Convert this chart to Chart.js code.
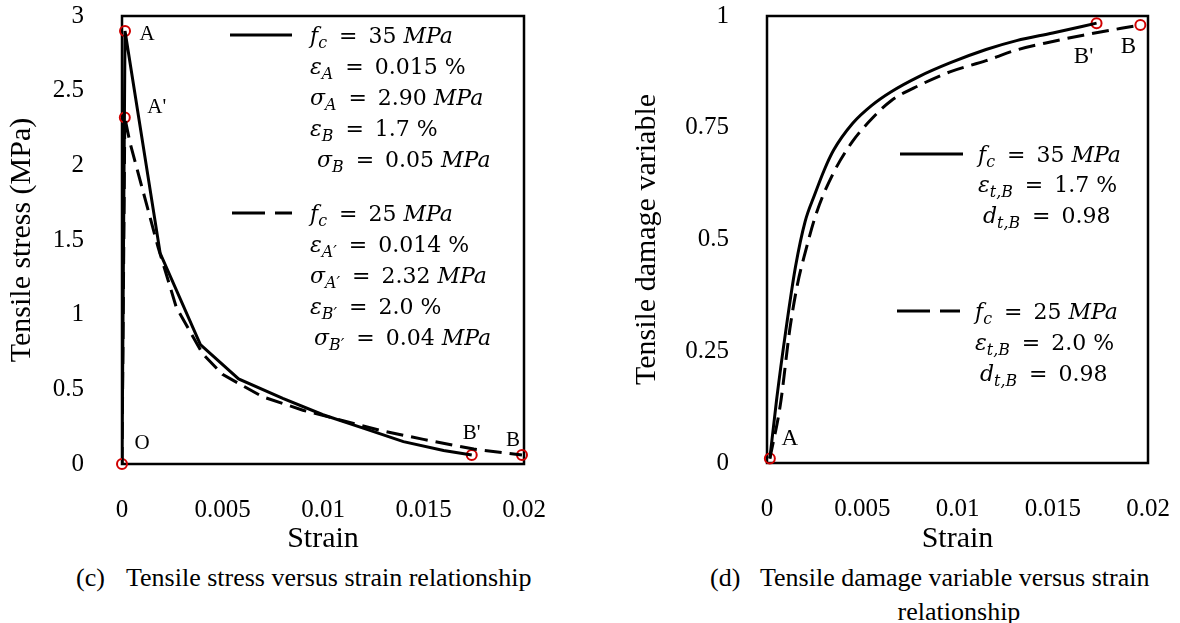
<!DOCTYPE html>
<html>
<head>
<meta charset="utf-8">
<script src="https://cdn.jsdelivr.net/npm/chart.js@4.4.1/dist/chart.umd.min.js"></script>
<style>
  body { margin: 0; background: #fff; width: 1180px; height: 623px; position: relative; overflow: hidden; }
  canvas { position: absolute; top: 0; }
  #stressChart { left: 0; }
  #damageChart { left: 590px; }
  .cap { position: absolute; font: 26px "Liberation Serif", serif; line-height: 1; color: #000; white-space: nowrap; }
</style>
</head>
<body>
<canvas id="stressChart" width="590" height="560"></canvas>
<canvas id="damageChart" width="590" height="560"></canvas>
<div class="cap" style="left:76px;top:565px">(c)</div>
<div class="cap" style="left:126px;top:565px">Tensile stress versus strain relationship</div>
<div class="cap" style="left:710px;top:565px">(d)</div>
<div class="cap" style="left:760px;top:565px">Tensile damage variable versus strain</div>
<div class="cap" style="left:959px;top:599px;transform:translateX(-50%)">relationship</div>
<script>
// tick values and labels
const strainTicks = [0, 0.005, 0.01, 0.015, 0.02];
const strainTickLabels = ['0', '0.005', '0.01', '0.015', '0.02'];
const stressTicks = [0, 0.5, 1, 1.5, 2, 2.5, 3];
const stressTickLabels = ['0', '0.5', '1', '1.5', '2', '2.5', '3'];
const damageTicks = [0, 0.25, 0.5, 0.75, 1];
const damageTickLabels = ['0', '0.25', '0.5', '0.75', '1'];

// (c) tensile stress vs strain
const stressStrain35 = [0, 0.00015, 0.0019, 0.0039, 0.0058, 0.008, 0.01, 0.012, 0.014, 0.016, 0.0174];
const stress35 = [0, 2.9, 1.41, 0.8, 0.57, 0.44, 0.33, 0.24, 0.15, 0.09, 0.06];
const stressStrain25 = [0, 0.00014, 0.0004, 0.001, 0.0018, 0.0027, 0.004, 0.005, 0.007, 0.009, 0.011, 0.013, 0.015, 0.0175, 0.0199];
const stress25 = [0, 2.32, 2.15, 1.85, 1.45, 1.05, 0.74, 0.6, 0.45, 0.36, 0.29, 0.22, 0.165, 0.1, 0.06];
const stressPtStrain = [0, 0.00015, 0.00014, 0.0174, 0.0199];
const stressPtValue = [0, 2.9, 2.32, 0.06, 0.06];
const stressPtNames = ['O', 'A', "A'", "B'", 'B'];

// (d) tensile damage vs strain
const damageStrain35 = [0.00015, 0.0005, 0.001, 0.0015, 0.002, 0.0025, 0.003, 0.0035, 0.0045, 0.0055, 0.0065, 0.008, 0.0096, 0.0115, 0.0131, 0.015, 0.0173];
const damage35 = [0.01, 0.14, 0.3, 0.44, 0.54, 0.6, 0.655, 0.7, 0.76, 0.8, 0.83, 0.865, 0.895, 0.925, 0.945, 0.962, 0.984];
const damageStrain25 = [0.00015, 0.0007, 0.0012, 0.0016, 0.002, 0.0026, 0.0035, 0.0045, 0.0055, 0.0065, 0.008, 0.0096, 0.0115, 0.0131, 0.015, 0.0166, 0.0196];
const damage25 = [0.01, 0.13, 0.3, 0.4, 0.47, 0.56, 0.65, 0.72, 0.77, 0.81, 0.845, 0.875, 0.9, 0.924, 0.943, 0.957, 0.98];
const damagePtStrain = [0.00015, 0.0173, 0.0196];
const damagePtValue = [0.01, 0.984, 0.98];
const damagePtNames = ['A', "B'", 'B'];

// legend text: [text, style]  i = italic, s = subscript, r = roman
const legendC35 = [
  [['f', 'i'], ['c', 'is'], [' = 35 ', 'r'], ['MPa', 'i']],
  [['ε', 'i'], ['A', 'is'], [' = 0.015 %', 'r']],
  [['σ', 'i'], ['A', 'is'], [' = 2.90 ', 'r'], ['MPa', 'i']],
  [['ε', 'i'], ['B', 'is'], [' = 1.7 %', 'r']],
  [['σ', 'i'], ['B', 'is'], [' = 0.05 ', 'r'], ['MPa', 'i']]
];
const legendC25 = [
  [['f', 'i'], ['c', 'is'], [' = 25 ', 'r'], ['MPa', 'i']],
  [['ε', 'i'], ['A′', 'is'], [' = 0.014 %', 'r']],
  [['σ', 'i'], ['A′', 'is'], [' = 2.32 ', 'r'], ['MPa', 'i']],
  [['ε', 'i'], ['B′', 'is'], [' = 2.0 %', 'r']],
  [['σ', 'i'], ['B′', 'is'], [' = 0.04 ', 'r'], ['MPa', 'i']]
];
const legendD35 = [
  [['f', 'i'], ['c', 'is'], [' = 35 ', 'r'], ['MPa', 'i']],
  [['ε', 'i'], ['t,B', 'is'], [' = 1.7 %', 'r']],
  [['d', 'i'], ['t,B', 'is'], [' = 0.98', 'r']]
];
const legendD25 = [
  [['f', 'i'], ['c', 'is'], [' = 25 ', 'r'], ['MPa', 'i']],
  [['ε', 'i'], ['t,B', 'is'], [' = 2.0 %', 'r']],
  [['d', 'i'], ['t,B', 'is'], [' = 0.98', 'r']]
];

const pts = (xs, ys) => xs.map((x, i) => ({ x: x, y: ys[i] }));
const SERIF = '"Liberation Serif", "Times New Roman", serif';
const MATH = '"DejaVu Serif", serif';

// draws one line of math-like text, wide spacing round "="
function drawRich(ctx, tokens, x, yc, size) {
  let cx = x;
  const base = yc + size * 0.36;
  ctx.textBaseline = 'alphabetic';
  ctx.textAlign = 'left';
  for (const [t, st] of tokens) {
    const sub = st.includes('s');
    const fs = sub ? size * 0.72 : size;
    ctx.font = (st.includes('i') ? 'italic ' : '') + fs + 'px ' + MATH;
    const y = sub ? base + size * 0.22 : base;
    const parts = t.split('=');
    parts.forEach((p, k) => {
      if (k > 0) {
        cx += 4;
        ctx.fillText('=', cx, y);
        cx += ctx.measureText('=').width + 4;
      }
      ctx.fillText(p, cx, y);
      cx += ctx.measureText(p).width;
    });
    if (sub) cx += 1;
  }
}

// box frame, legend blocks and point names
const notes = {
  id: 'notes',
  beforeDatasetsDraw(chart) {
    const { ctx, chartArea: a } = chart;
    ctx.save();
    ctx.strokeStyle = '#000';
    ctx.lineWidth = 2.5;
    ctx.strokeRect(a.left, a.top, a.right - a.left, a.bottom - a.top);
    ctx.restore();
  },
  afterDatasetsDraw(chart, args, opts) {
    const ctx = chart.ctx;
    ctx.save();
    ctx.fillStyle = '#000';
    ctx.strokeStyle = '#000';
    for (const g of opts.groups) {
      ctx.lineWidth = 3;
      ctx.setLineDash(g.dash);
      ctx.beginPath();
      ctx.moveTo(g.x0, g.ys[0]);
      ctx.lineTo(g.x1, g.ys[0]);
      ctx.stroke();
      ctx.setLineDash([]);
      g.lines.forEach((ln, i) => drawRich(ctx, ln, g.tx + (g.indent[i] || 0), g.ys[i], opts.mathSize));
    }
    const meta = chart.getDatasetMeta(opts.markerSet);
    ctx.font = opts.nameSize + 'px ' + SERIF;
    ctx.textAlign = 'center';
    ctx.textBaseline = 'middle';
    opts.names.forEach((n, i) => {
      const p = meta.data[i];
      ctx.fillText(n, p.x + opts.offsets[i][0], p.y + opts.offsets[i][1]);
    });
    ctx.restore();
  }
};

function axes(xT, xL, yT, yL, yMax, yTitle, yWidth, yTitlePad, xHeight) {
  const tickFont = { family: SERIF, size: 25 };
  const titleFont = { family: SERIF, size: 30 };
  return {
    x: {
      type: 'linear', min: 0, max: 0.02,
      grid: { display: false }, border: { display: false },
      afterBuildTicks: s => { s.ticks = xT.map(v => ({ value: v })); },
      afterFit: s => { s.height = xHeight; s.paddingLeft = 0; s.paddingRight = 0; },
      ticks: { color: '#000', font: tickFont, padding: 23, maxRotation: 0,
               callback: (v, i) => xL[i] },
      title: { display: true, text: 'Strain', color: '#000', font: titleFont,
               padding: { top: 0, bottom: 3 } }
    },
    y: {
      type: 'linear', min: 0, max: yMax,
      grid: { display: false }, border: { display: false },
      afterBuildTicks: s => { s.ticks = yT.map(v => ({ value: v })); },
      afterFit: s => { s.width = yWidth; s.paddingTop = 0; s.paddingBottom = 0; },
      ticks: { color: '#000', font: tickFont, padding: 30,
               callback: (v, i) => yL[i] },
      title: { display: true, text: yTitle, color: '#000', font: titleFont,
               padding: { top: yTitlePad, bottom: 0 } }
    }
  };
}

const solid = { borderColor: '#000', borderWidth: 3, pointRadius: 0, showLine: true, fill: false };
const dashed = Object.assign({}, solid, { borderDash: [17, 8] });
const marker = { showLine: false, pointRadius: 5, pointBorderWidth: 2, pointBorderColor: '#d00000',
                 pointBackgroundColor: 'rgba(0,0,0,0)', clip: false };

new Chart(document.getElementById('stressChart'), {
  type: 'scatter',
  data: {
    datasets: [
      Object.assign({ data: pts(stressStrain35, stress35), tension: 0 }, solid),
      Object.assign({ data: pts(stressStrain25, stress25), tension: 0 }, dashed),
      Object.assign({ data: pts(stressPtStrain, stressPtValue) }, marker)
    ]
  },
  options: {
    responsive: false, animation: false, events: [],
    layout: { padding: { left: 0, top: 16, right: 66, bottom: 0 } },
    scales: axes(strainTicks, strainTickLabels, stressTicks, stressTickLabels, 3,
                 'Tensile stress (MPa)', 122, 4, 96),
    plugins: {
      legend: { display: false }, tooltip: { enabled: false },
      notes: {
        mathSize: 22, nameSize: 21, markerSet: 2,
        groups: [
          { dash: [], x0: 230, x1: 292, tx: 310, ys: [35, 66, 97, 128, 159], indent: [0, 0, 0, 0, 7], lines: legendC35 },
          { dash: [33, 10], x0: 232, x1: 292, tx: 310, ys: [213, 244, 275, 306, 337], indent: [0, 0, 0, 0, 4], lines: legendC25 }
        ],
        names: stressPtNames,
        offsets: [[20, -21], [22, 4], [32, -10], [0, -22], [-9, -15]]
      }
    }
  },
  plugins: [notes]
});

new Chart(document.getElementById('damageChart'), {
  type: 'scatter',
  data: {
    datasets: [
      Object.assign({ data: pts(damageStrain35, damage35), cubicInterpolationMode: 'monotone' }, solid),
      Object.assign({ data: pts(damageStrain25, damage25), cubicInterpolationMode: 'monotone' }, dashed),
      Object.assign({ data: pts(damagePtStrain, damagePtValue) }, marker)
    ]
  },
  options: {
    responsive: false, animation: false, events: [],
    layout: { padding: { left: 0, top: 16, right: 32, bottom: 0 } },
    scales: axes(strainTicks, strainTickLabels, damageTicks, damageTickLabels, 1,
                 'Tensile damage variable', 177, 39, 97),
    plugins: {
      legend: { display: false }, tooltip: { enabled: false },
      notes: {
        mathSize: 22, nameSize: 23, markerSet: 2,
        groups: [
          { dash: [], x0: 310, x1: 373, tx: 388, ys: [154, 184, 215], indent: [0, 0, 5], lines: legendD35 },
          { dash: [33, 10], x0: 307, x1: 370, tx: 385, ys: [311, 342, 373], indent: [0, 0, 5], lines: legendD25 }
        ],
        names: damagePtNames,
        offsets: [[20, -20], [-13, 34], [-12, 22]]
      }
    }
  },
  plugins: [notes]
});
</script>
</body>
</html>
